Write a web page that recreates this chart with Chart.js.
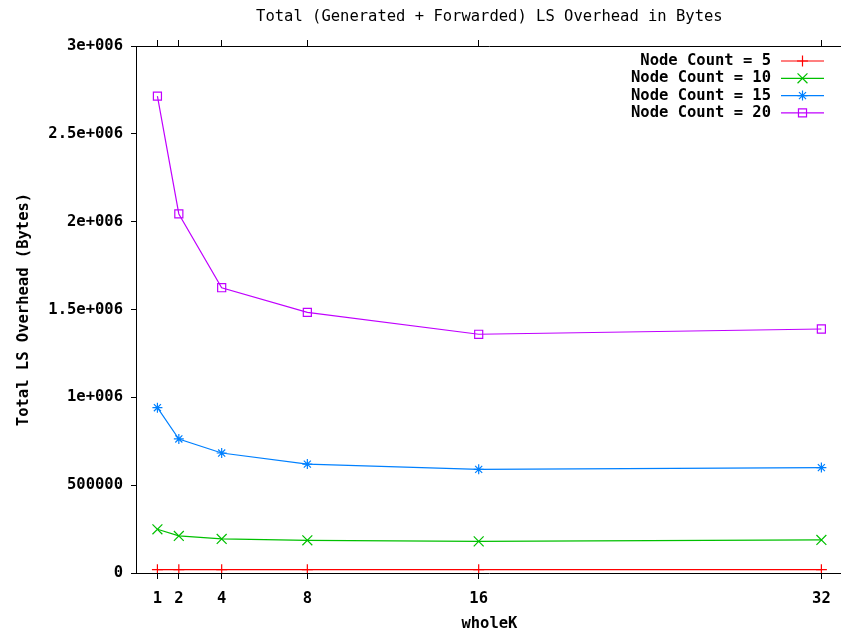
<!DOCTYPE html>
<html>
<head>
<meta charset="utf-8">
<script src="https://cdn.jsdelivr.net/npm/chart.js@4/dist/chart.umd.min.js"></script>
<style>
    html, body { margin: 0; padding: 0; background: #fff; overflow: hidden; }
    #wrap { width: 851px; height: 635px; }
    canvas { display: block; width: 851px; height: 635px; }
</style>
</head>
<body>
<!-- canvas is a bit wider than the window: the right border of the plot falls just off screen, like the original -->
<div id="wrap"><canvas id="overheadChart" width="851" height="635"></canvas></div>
<script>
// values
const wholeK = [1, 2, 4, 8, 16, 32];

const node5  = [19000, 19000, 19000, 19000, 19000, 19000];
const node10 = [249000, 211000, 194000, 186000, 180000, 188000];
const node15 = [941000, 763000, 683000, 620000, 590000, 600000];
const node20 = [2715000, 2044000, 1624000, 1484000, 1359000, 1389000];

const seriesNames = ['Node Count = 5', 'Node Count = 10', 'Node Count = 15', 'Node Count = 20'];

const yTickValues = [0, 500000, 1000000, 1500000, 2000000, 2500000, 3000000];
const yTickLabels = ['0', '500000', '1e+006', '1.5e+006', '2e+006', '2.5e+006', '3e+006'];

const FONT = '"DejaVu Sans Mono", monospace';

function toPoints(values) {
    return values.map((v, i) => ({ x: wholeK[i], y: v }));
}

function makeSet(label, values, color, style, radius) {
    return {
        label: label,
        data: toPoints(values),
        borderColor: color,
        backgroundColor: 'rgba(0,0,0,0)',
        borderWidth: 1.2,
        pointStyle: style,
        pointRadius: radius,
        pointHoverRadius: radius,
        pointBorderColor: color,
        pointBackgroundColor: 'rgba(0,0,0,0)',
        pointBorderWidth: 1.2,
        tension: 0
    };
}

// small marker painter for the legend samples
function drawMarker(ctx, style, x, y, r) {
    ctx.beginPath();
    if (style === 'cross' || style === 'star') {
        ctx.moveTo(x, y - r); ctx.lineTo(x, y + r);
        ctx.moveTo(x - r, y); ctx.lineTo(x + r, y);
    }
    if (style === 'crossRot' || style === 'star') {
        const o = r * Math.SQRT1_2;
        ctx.moveTo(x - o, y - o); ctx.lineTo(x + o, y + o);
        ctx.moveTo(x - o, y + o); ctx.lineTo(x + o, y - o);
    }
    if (style === 'rect') {
        const s = r * Math.SQRT1_2;
        ctx.rect(x - s, y - s, 2 * s, 2 * s);
    }
    ctx.stroke();
}

// gnuplot style key: text right aligned, sample on the right, inside the plot
const insideKey = {
    id: 'insideKey',
    afterDatasetsDraw(chart) {
        const ctx = chart.ctx;
        const textRight = 771, lineStart = 781, lineEnd = 824;
        ctx.save();
        ctx.font = 'bold 15.5px ' + FONT;
        ctx.textAlign = 'right';
        ctx.textBaseline = 'middle';
        chart.data.datasets.forEach((ds, i) => {
            const y = 61 + i * 17.3;
            ctx.fillStyle = '#000';
            ctx.fillText(ds.label, textRight, y);
            ctx.strokeStyle = ds.borderColor;
            ctx.lineWidth = 1.2;
            ctx.beginPath();
            ctx.moveTo(lineStart, y);
            ctx.lineTo(lineEnd, y);
            ctx.stroke();
            drawMarker(ctx, ds.pointStyle, (lineStart + lineEnd) / 2, y, ds.pointRadius);
        });
        ctx.restore();
    }
};

function fitX(height) {
    return scale => {
        scale.height = height;
        scale.paddingLeft = 0;
        scale.paddingRight = 0;
    };
}

const ctx = document.getElementById('overheadChart').getContext('2d');

new Chart(ctx, {
    type: 'line',
    data: {
        datasets: [
            makeSet(seriesNames[0], node5, '#ff0000', 'cross', 5.5),
            makeSet(seriesNames[1], node10, '#00c000', 'crossRot', 7),
            makeSet(seriesNames[2], node15, '#0080ff', 'star', 5),
            makeSet(seriesNames[3], node20, '#c000ff', 'rect', 5.7)
        ]
    },
    plugins: [insideKey],
    options: {
        responsive: false,
        animation: false,
        devicePixelRatio: 1,
        layout: { padding: { left: 0, right: 5, top: 0, bottom: 0 } },
        plugins: {
            legend: { display: false },
            tooltip: { enabled: false },
            title: {
                display: true,
                fullSize: false,
                text: 'Total (Generated + Forwarded) LS Overhead in Bytes',
                color: '#000',
                font: { family: FONT, size: 15.5, weight: 'normal', lineHeight: 1.2 },
                padding: { top: 8, bottom: 13.4 }
            }
        },
        scales: {
            x: {
                type: 'linear',
                position: 'bottom',
                min: 0,
                max: 33,
                afterBuildTicks: scale => { scale.ticks = wholeK.map(v => ({ value: v })); },
                afterFit: fitX(62),
                ticks: {
                    color: '#000',
                    font: { family: FONT, size: 15.5, weight: 'bold' },
                    padding: 11,
                    maxRotation: 0,
                    autoSkip: false
                },
                grid: { drawOnChartArea: false, drawTicks: true, tickLength: 6, color: '#000' },
                border: { display: true, color: '#000', width: 1 },
                title: {
                    display: true,
                    text: 'wholeK',
                    color: '#000',
                    font: { family: FONT, size: 15.5, weight: 'bold', lineHeight: 1.2 },
                    padding: { top: 0, bottom: 2 }
                }
            },
            xTop: {
                type: 'linear',
                position: 'top',
                min: 0,
                max: 33,
                afterBuildTicks: scale => { scale.ticks = wholeK.map(v => ({ value: v })); },
                afterFit: fitX(6),
                ticks: { display: false },
                grid: { drawOnChartArea: false, drawTicks: true, tickLength: 6, color: '#000' },
                border: { display: true, color: '#000', width: 1 }
            },
            y: {
                min: 0,
                max: 3000000,
                afterBuildTicks: scale => { scale.ticks = yTickValues.map(v => ({ value: v })); },
                afterFit: scale => { scale.width = 136; },
                ticks: {
                    color: '#000',
                    font: { family: FONT, size: 15.5, weight: 'bold' },
                    padding: 8,
                    callback: (value, index) => yTickLabels[index]
                },
                grid: { drawOnChartArea: false, drawTicks: true, tickLength: 5, color: '#000' },
                border: { display: true, color: '#000', width: 1 },
                title: {
                    display: true,
                    text: 'Total LS Overhead (Bytes)',
                    color: '#000',
                    font: { family: FONT, size: 15.5, weight: 'bold', lineHeight: 1.2 },
                    padding: { top: 15, bottom: 0 }
                }
            }
        }
    }
});
</script>
</body>
</html>
